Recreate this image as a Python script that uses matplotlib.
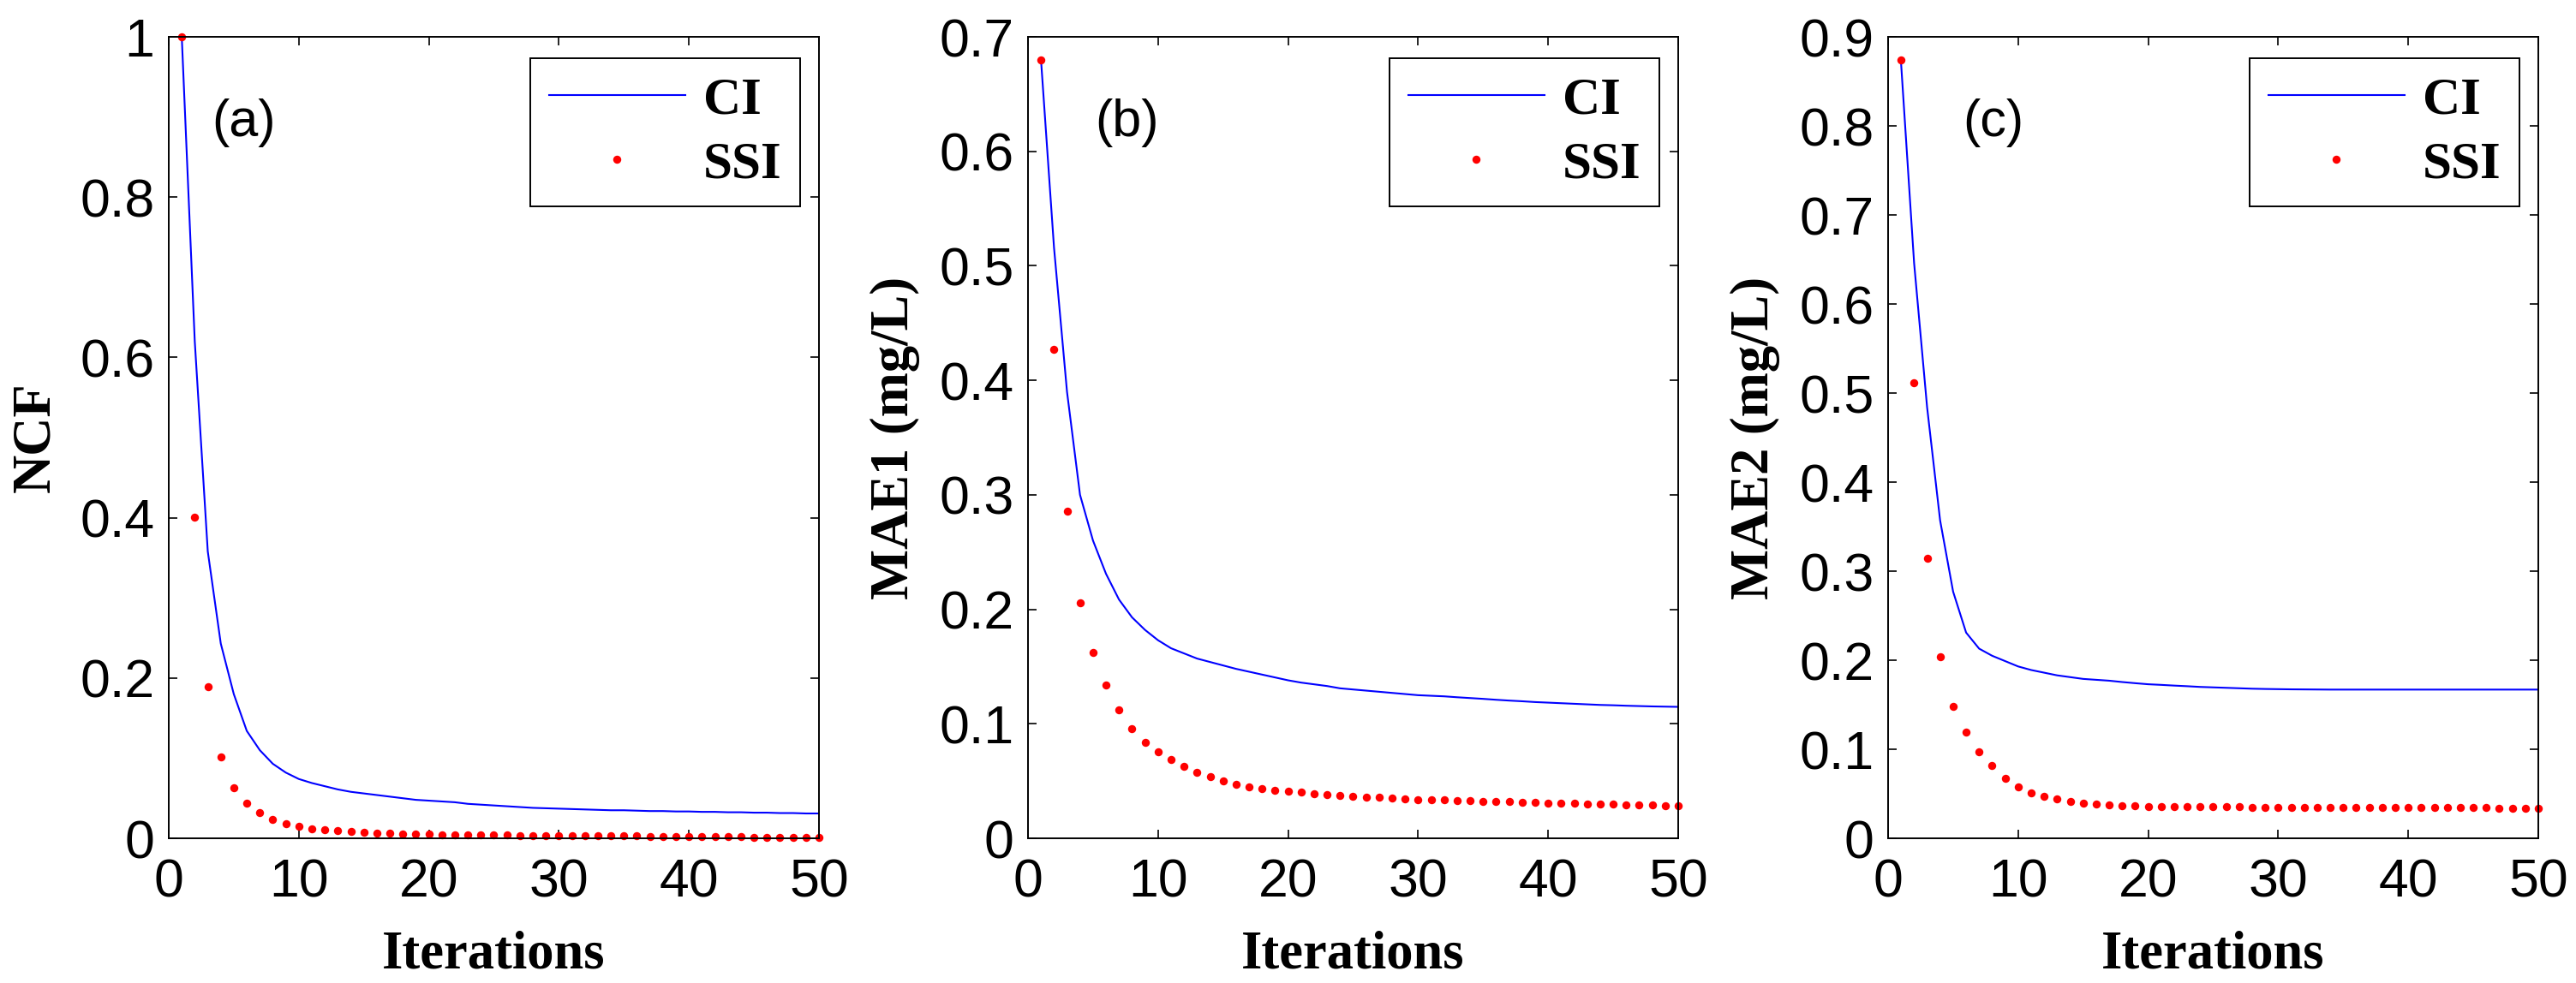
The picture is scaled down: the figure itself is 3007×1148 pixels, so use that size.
import matplotlib
matplotlib.use("Agg")
import matplotlib.pyplot as plt
from matplotlib.ticker import FuncFormatter
import numpy as np

# Iterations 1..50
iterations = np.arange(1, 51)

# (a) NCF
ncf_ci = [1.0, 0.62, 0.358, 0.243, 0.18, 0.134, 0.110, 0.093, 0.082, 0.074,
          0.069, 0.065, 0.061, 0.058, 0.056, 0.054, 0.052, 0.050, 0.048, 0.047,
          0.046, 0.045, 0.043, 0.042, 0.041, 0.040, 0.039, 0.038, 0.0375, 0.037,
          0.0365, 0.036, 0.0355, 0.035, 0.035, 0.0345, 0.034, 0.034, 0.0335, 0.0335,
          0.033, 0.033, 0.0325, 0.0325, 0.032, 0.032, 0.0315, 0.0315, 0.031, 0.031]
ncf_ssi = [1.0, 0.401, 0.189, 0.102, 0.063, 0.0435, 0.032, 0.024, 0.018, 0.0154,
           0.012, 0.011, 0.0096, 0.0083, 0.0072, 0.0066, 0.006, 0.0056, 0.0052, 0.005,
           0.0048, 0.0046, 0.0044, 0.0042, 0.004, 0.0038, 0.0036, 0.0035, 0.0034, 0.0033,
           0.0032, 0.0031, 0.003, 0.0029, 0.0028, 0.0027, 0.0026, 0.0025, 0.0024, 0.0023,
           0.0022, 0.0021, 0.002, 0.0018, 0.0016, 0.0014, 0.0012, 0.001, 0.0008, 0.0006]

# (b) MAE1
mae1_ci = [0.68, 0.516, 0.39, 0.30, 0.26, 0.231, 0.2085, 0.193, 0.182, 0.173,
           0.166, 0.1615, 0.157, 0.154, 0.151, 0.148, 0.1455, 0.143, 0.1405, 0.138,
           0.136, 0.1345, 0.133, 0.131, 0.130, 0.129, 0.128, 0.127, 0.126, 0.125,
           0.1245, 0.124, 0.1232, 0.1225, 0.1218, 0.121, 0.1203, 0.1197, 0.119, 0.1185,
           0.118, 0.1175, 0.117, 0.1165, 0.1162, 0.1158, 0.1155, 0.1152, 0.115, 0.1148]
mae1_ssi = [0.68, 0.427, 0.286, 0.206, 0.162, 0.134, 0.112, 0.0955, 0.084, 0.0755,
            0.0688, 0.0625, 0.0575, 0.0535, 0.0502, 0.0475, 0.0452, 0.0435, 0.042, 0.0412,
            0.0404, 0.0392, 0.0383, 0.0377, 0.037, 0.0362, 0.0356, 0.035, 0.0345, 0.034,
            0.0337, 0.0334, 0.0331, 0.0328, 0.0325, 0.0322, 0.0319, 0.0316, 0.0313, 0.031,
            0.0307, 0.0304, 0.0301, 0.0298, 0.0296, 0.0294, 0.0292, 0.029, 0.0288, 0.0285]

# (c) MAE2
mae2_ci = [0.87, 0.646, 0.484, 0.357, 0.277, 0.231, 0.213, 0.205, 0.199, 0.193,
           0.189, 0.186, 0.183, 0.181, 0.179, 0.178, 0.177, 0.1755, 0.1742, 0.173,
           0.1723, 0.1715, 0.1708, 0.170, 0.1695, 0.169, 0.1685, 0.168, 0.1677, 0.1675,
           0.1673, 0.1672, 0.1671, 0.167, 0.167, 0.167, 0.167, 0.167, 0.167, 0.167,
           0.167, 0.167, 0.167, 0.167, 0.167, 0.167, 0.167, 0.167, 0.167, 0.167]
mae2_ssi = [0.874, 0.512, 0.314, 0.204, 0.148, 0.119, 0.097, 0.082, 0.0675, 0.0577,
            0.0513, 0.0473, 0.0438, 0.041, 0.039, 0.038, 0.0375, 0.037, 0.0365, 0.036,
            0.0358, 0.0357, 0.0356, 0.0355, 0.0354, 0.0353, 0.0352, 0.0351, 0.035, 0.035,
            0.0349, 0.0349, 0.0348, 0.0348, 0.0347, 0.0347, 0.0346, 0.0346, 0.0345, 0.0345,
            0.0344, 0.0344, 0.0343, 0.0343, 0.0342, 0.0342, 0.0341, 0.034, 0.034, 0.0339]

panels = ["(a)", "(b)", "(c)"]
ylabels = ["NCF", "MAE1 (mg/L)", "MAE2 (mg/L)"]
ymaxes = [1.0, 0.7, 0.9]
ysteps = [0.2, 0.1, 0.1]
ci_data = [ncf_ci, mae1_ci, mae2_ci]
ssi_data = [ncf_ssi, mae1_ssi, mae2_ssi]

SANS = "Liberation Sans"
SERIF = "Liberation Serif"

fig = plt.figure(figsize=(30.07, 11.48), dpi=100)

lefts = [197 / 3007, 1200 / 3007, 2204 / 3007]
label_x = [0.066, 0.103, 0.115]

for i in range(3):
    ax = fig.add_axes([lefts[i], 0.1472, 0.2524, 0.8153])
    ax.plot(iterations, ci_data[i], color="#0000FF", linewidth=1.5, label="CI")
    ax.plot(iterations, ssi_data[i], linestyle="none", marker="o", markersize=6.8,
            markeredgewidth=0, color="#FF0000", label="SSI", clip_on=False)

    ax.set_xlim(0, 50)
    ax.set_ylim(0, ymaxes[i])
    ax.set_xticks(np.arange(0, 51, 10))
    ax.set_yticks(np.arange(0, ymaxes[i] + 1e-9, ysteps[i]))
    ax.yaxis.set_major_formatter(FuncFormatter(lambda v, p: f"{v:g}"))
    ax.tick_params(direction="in", length=7, width=1.2, top=True, right=True,
                   labelsize=45, pad=12)
    for lab in ax.get_xticklabels() + ax.get_yticklabels():
        lab.set_fontfamily(SANS)
    ax.tick_params(axis="x", pad=16)
    for sp in ax.spines.values():
        sp.set_linewidth(1.4)

    ax.set_xlabel("Iterations", fontfamily=SERIF, fontweight="bold", fontsize=45)
    ax.set_ylabel(ylabels[i], fontfamily=SERIF, fontweight="bold", fontsize=45)
    ax.xaxis.set_label_coords(0.5, -0.115)
    ax.yaxis.set_label_coords(-0.166, 0.5)

    ax.text(label_x[i], 0.893, panels[i], transform=ax.transAxes, ha="left",
            va="center", fontfamily=SANS, fontsize=44)

    leg = ax.legend(loc="upper right", bbox_to_anchor=(0.971, 0.973), borderaxespad=0,
                    fancybox=False, edgecolor="black", framealpha=1,
                    prop={"family": SERIF, "weight": "bold", "size": 44},
                    handlelength=2.6, handletextpad=0.35, labelspacing=0.3,
                    borderpad=0.35)
    leg.get_frame().set_linewidth(1.4)

fig.savefig("out.png", dpi=100)
